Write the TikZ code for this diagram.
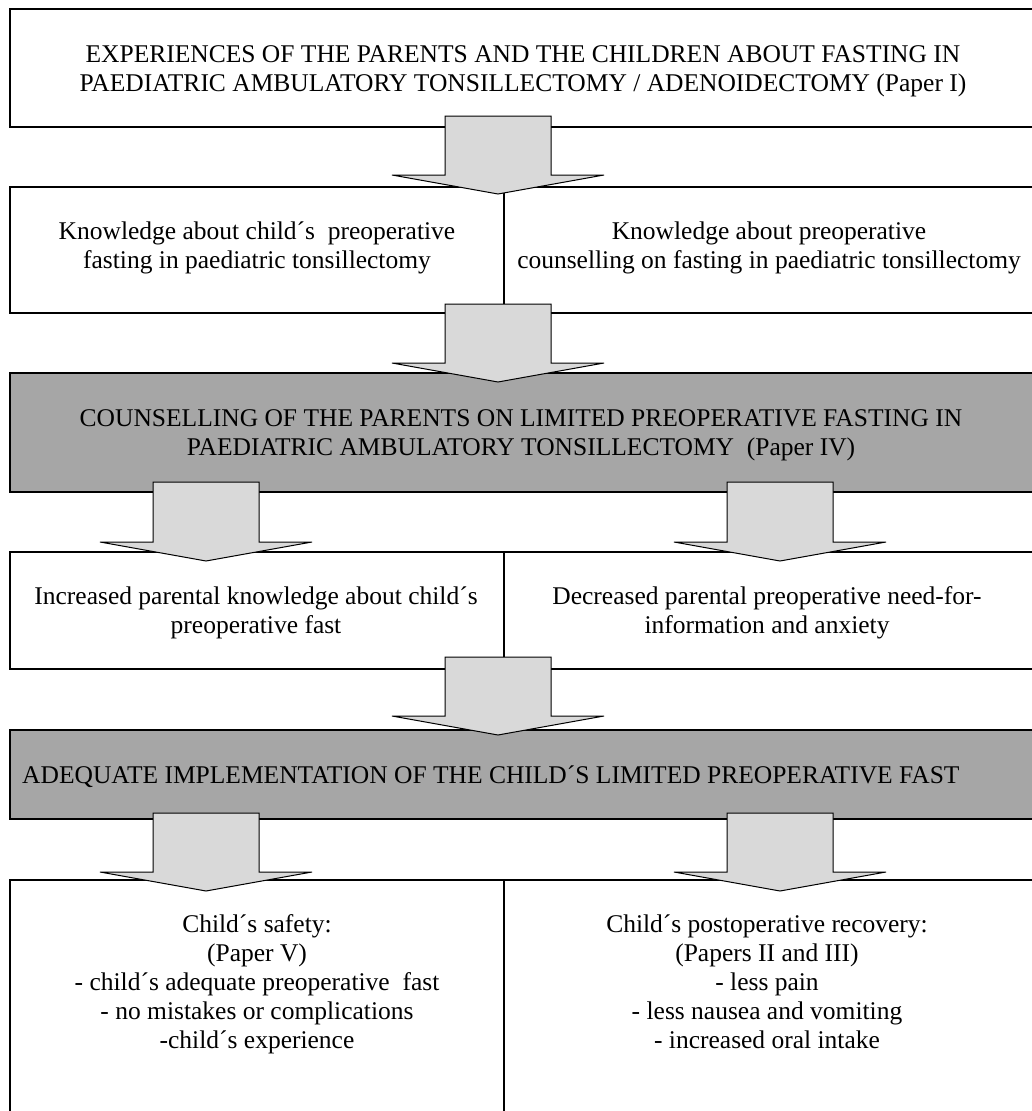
\documentclass[tikz,border=0pt]{standalone}
\usepackage{fontspec}
\setmainfont{Liberation Serif}
\definecolor{boxgrey}{HTML}{A6A6A6}
\definecolor{arrowgrey}{HTML}{D9D9D9}
\newcommand{\blockarr}[4]{%
  \path[blockarrow] ({#1-53},#2) -- ({#1+53},#2) -- ({#1+53},#3) -- ({#1+106},#3)
    -- (#1,#4) -- ({#1-106},#3) -- ({#1-53},#3) -- cycle;}
\begin{document}
\begin{tikzpicture}[x=1pt,y=-1pt,
  boxline/.style={draw=black,line width=2.3pt,line join=miter},
  greybox/.style={boxline,fill=boxgrey},
  divline/.style={draw=black,line width=1.3pt},
  blockarrow/.style={draw=black,fill=arrowgrey,line width=1pt,line join=miter},
  lbl/.style={anchor=base,inner sep=0pt,font=\fontsize{25.5}{29.5}\selectfont},
  lblw/.style={lbl,anchor=base west}]
\useasboundingbox (0,0) rectangle (1032,1111);
\fill[white] (0,0) rectangle (1032,1111);
% boxes
\path[boxline] (10,9) rectangle (1042,127);
\path[boxline] (10,187) rectangle (1042,313);
\path[divline] (504,187) -- (504,313);
\path[greybox] (10,373) rectangle (1042,492);
\path[boxline] (10,552) rectangle (1042,669);
\path[divline] (504,552) -- (504,669);
\path[greybox] (10,730) rectangle (1042,819);
\path[boxline] (10,880) rectangle (1042,1130);
\path[divline] (504,880) -- (504,1130);
% block arrows
\blockarr{498}{116}{175}{194}
\blockarr{498}{304}{363}{382}
\blockarr{206}{482}{542}{561}
\blockarr{780}{482}{542}{561}
\blockarr{498}{657}{716}{735}
\blockarr{206}{813}{872}{891}
\blockarr{780}{813}{872}{891}
% texts
\node[lbl] (t1a) at (523,62) {EXPERIENCES OF THE PARENTS AND THE CHILDREN ABOUT FASTING IN};
\node[lbl] (t1b) at (523,91) {PAEDIATRIC AMBULATORY TONSILLECTOMY / ADENOIDECTOMY (Paper I)};
\node[lbl] (t2la) at (257,239) {Knowledge about child´s~ preoperative};
\node[lbl] (t2lb) at (257,268) {fasting in paediatric tonsillectomy};
\node[lbl] (t2ra) at (769,239) {Knowledge about preoperative};
\node[lbl] (t2rb) at (769,268) {counselling on fasting in paediatric tonsillectomy};
\node[lbl] (t3a) at (521,426) {COUNSELLING OF THE PARENTS ON LIMITED PREOPERATIVE FASTING IN};
\node[lbl] (t3b) at (521,455) {PAEDIATRIC AMBULATORY TONSILLECTOMY~ (Paper IV)};
\node[lbl] (t4la) at (256,604) {Increased parental knowledge about child´s};
\node[lbl] (t4lb) at (256,633) {preoperative fast};
\node[lbl] (t4ra) at (767,604) {Decreased parental preoperative need-for-};
\node[lbl] (t4rb) at (767,633) {information and anxiety};
\node[lblw] (t5) at (22,783) {ADEQUATE IMPLEMENTATION OF THE CHILD´S LIMITED PREOPERATIVE FAST};
\node[lbl] (t6la) at (257,932) {Child´s safety:};
\node[lbl] (t6lb) at (257,961) {(Paper V)};
\node[lbl] (t6lc) at (257,990) {- child´s adequate preoperative~ fast};
\node[lbl] (t6ld) at (257,1019) {- no mistakes or complications};
\node[lbl] (t6le) at (257,1048) {-child´s experience};
\node[lbl] (t6ra) at (767,932) {Child´s postoperative recovery:};
\node[lbl] (t6rb) at (767,961) {(Papers II and III)};
\node[lbl] (t6rc) at (767,990) {- less pain};
\node[lbl] (t6rd) at (767,1019) {- less nausea and vomiting};
\node[lbl] (t6re) at (767,1048) {- increased oral intake};
\end{tikzpicture}
\end{document}
